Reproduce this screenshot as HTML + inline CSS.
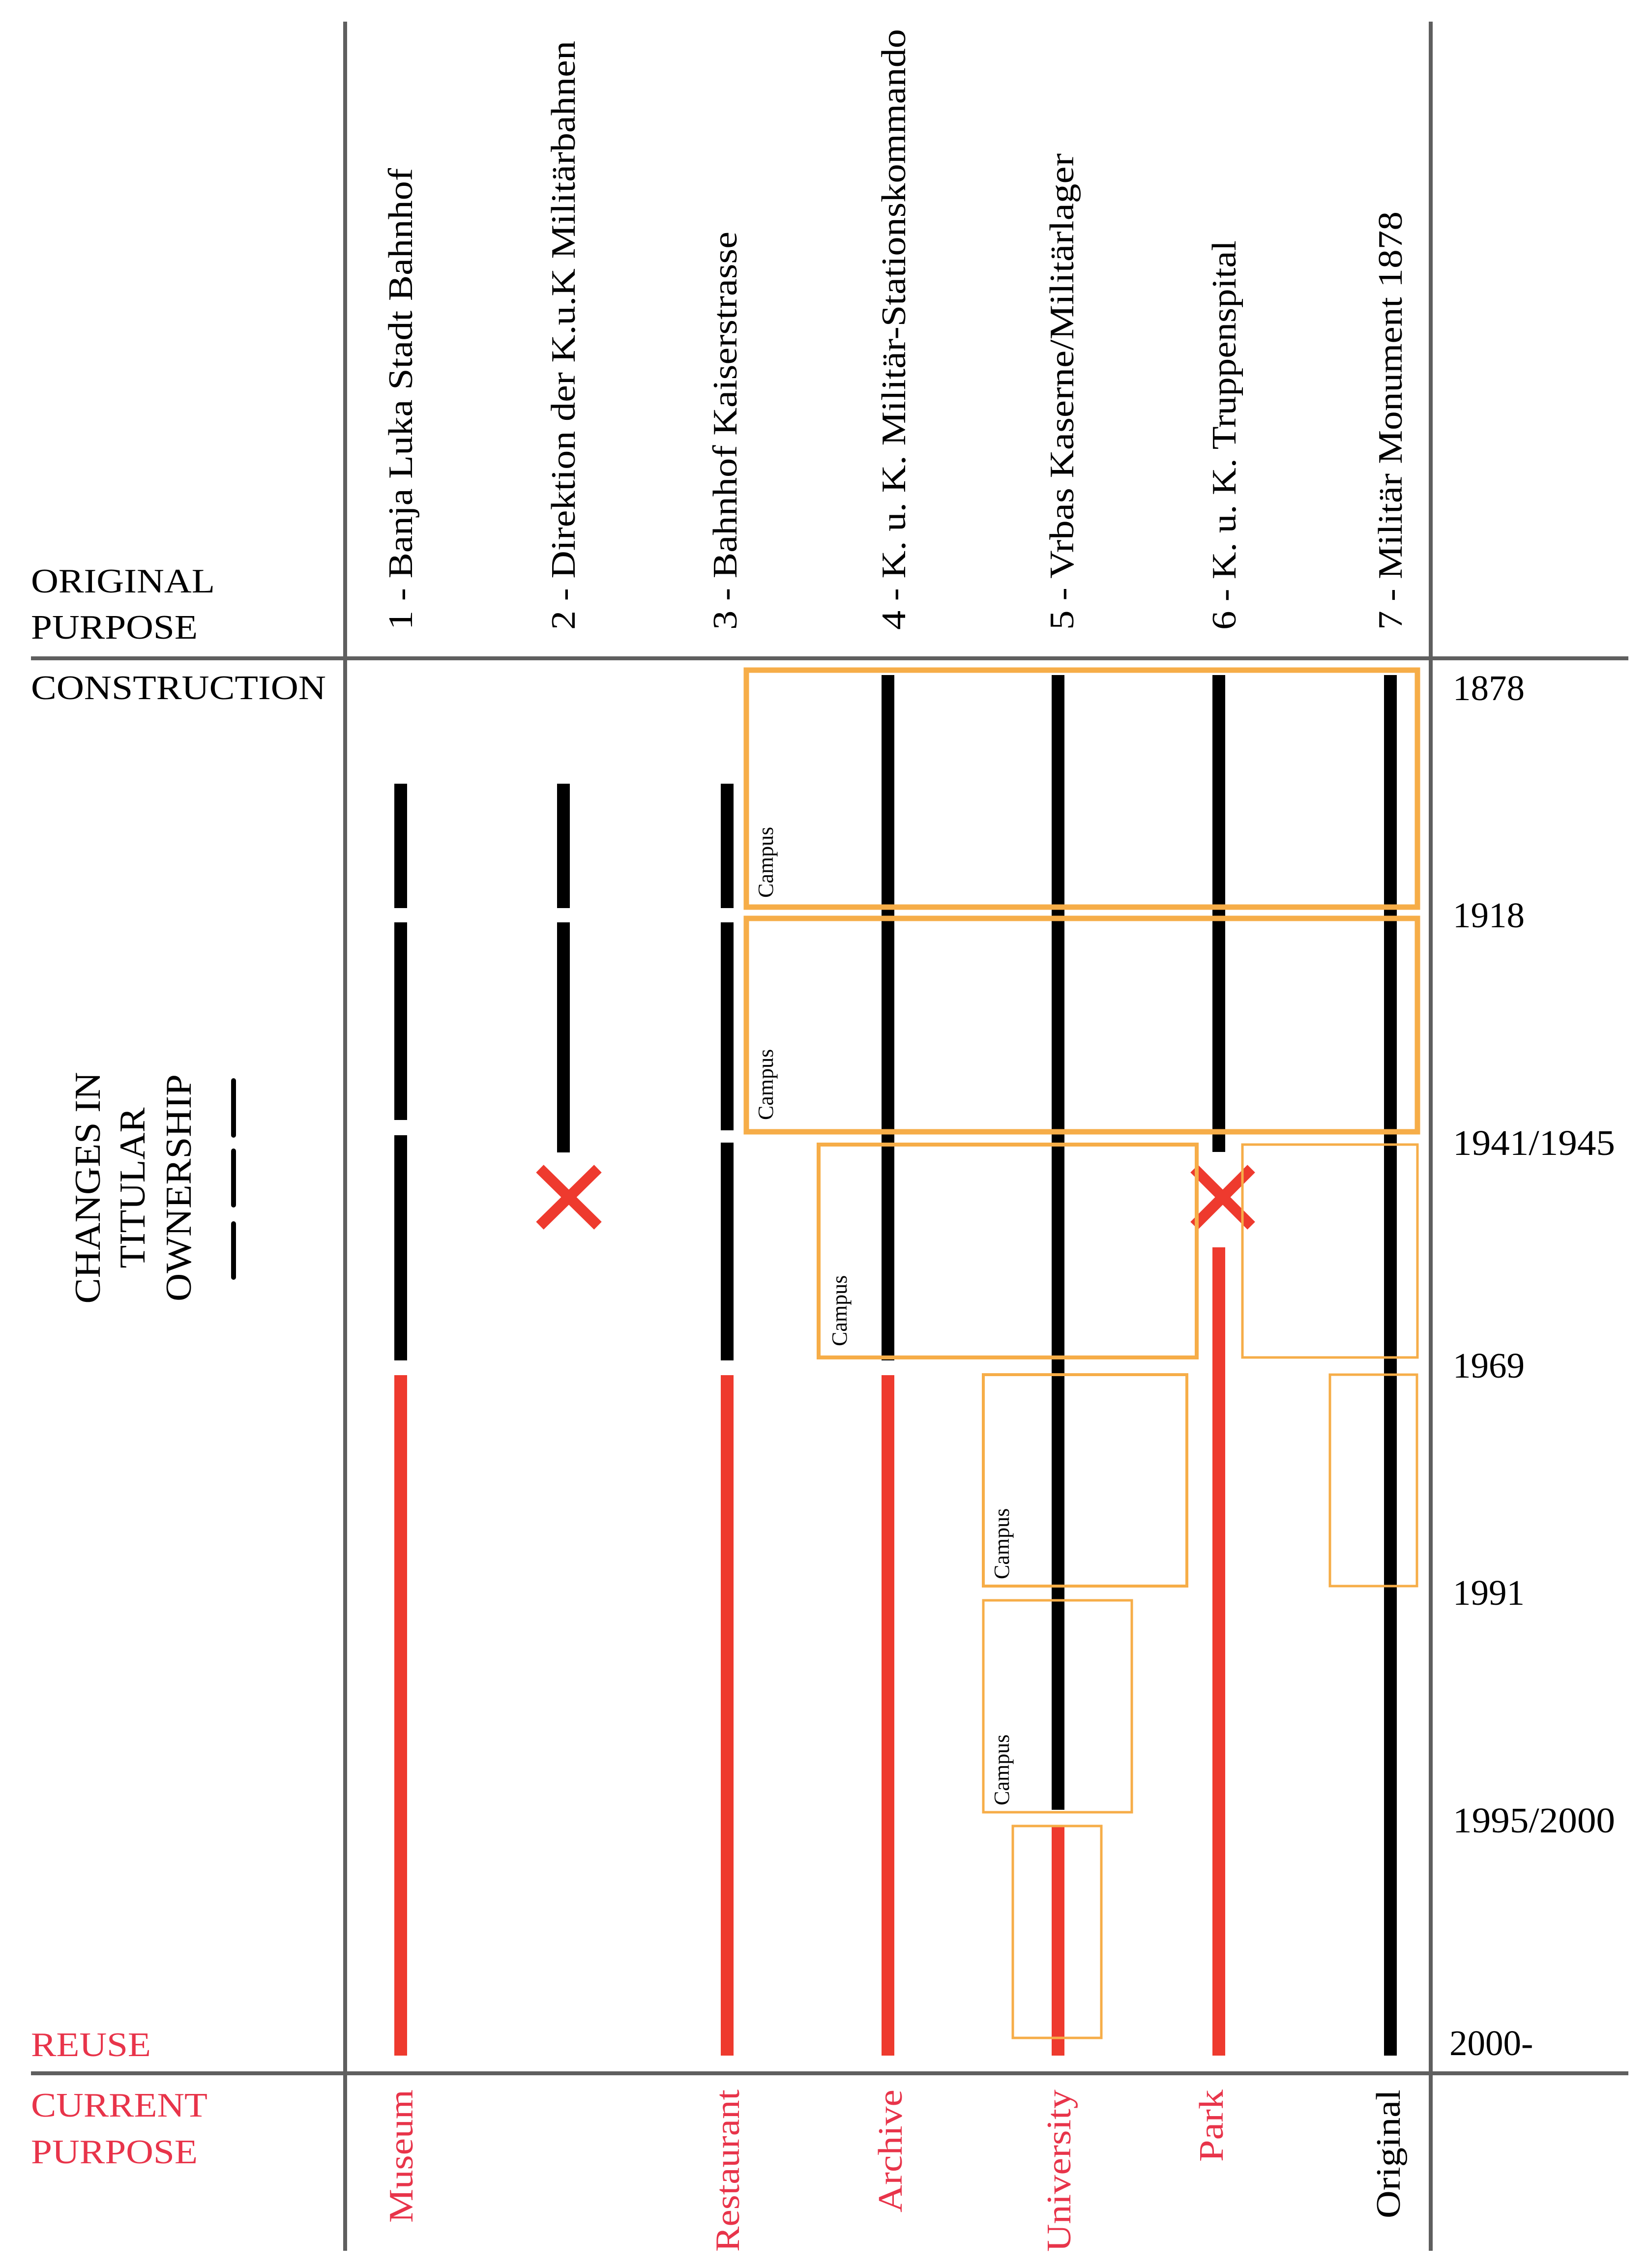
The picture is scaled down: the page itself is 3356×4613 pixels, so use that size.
<!DOCTYPE html>
<html><head><meta charset="utf-8"><style>
html,body{margin:0;padding:0;background:#fff}
svg{display:block}
text{font-family:"Liberation Serif",serif}
</style></head><body>
<svg width="3356" height="4613" viewBox="0 0 3356 4613" xmlns="http://www.w3.org/2000/svg">
<rect width="3356" height="4613" fill="#fff"/>
<g stroke="#5f5f5f" stroke-width="8">
<line x1="702" y1="44" x2="702" y2="4578"/>
<line x1="2910" y1="44" x2="2910" y2="4578"/>
<line x1="63" y1="1339" x2="3312" y2="1339"/>
<line x1="63" y1="4217" x2="3312" y2="4217"/>
</g>
<g font-size="70" fill="#000" lengthAdjust="spacingAndGlyphs">
<text x="63" y="1205" textLength="374" lengthAdjust="spacingAndGlyphs">ORIGINAL</text>
<text x="63" y="1299" textLength="339" lengthAdjust="spacingAndGlyphs">PURPOSE</text>
<text x="63" y="1422" textLength="600" lengthAdjust="spacingAndGlyphs">CONSTRUCTION</text>
</g>
<g font-size="70" fill="#e8344a">
<text x="63" y="4182" textLength="244" lengthAdjust="spacingAndGlyphs">REUSE</text>
<text x="63" y="4305" textLength="359" lengthAdjust="spacingAndGlyphs">CURRENT</text>
<text x="63" y="4400" textLength="339" lengthAdjust="spacingAndGlyphs">PURPOSE</text>
</g>
<g font-size="74" fill="#000" text-anchor="middle">
<text transform="translate(203,2416) rotate(-90)" textLength="471" lengthAdjust="spacingAndGlyphs">CHANGES IN</text>
<text transform="translate(294,2416) rotate(-90)" textLength="327" lengthAdjust="spacingAndGlyphs">TITULAR</text>
<text transform="translate(388,2416) rotate(-90)" textLength="462" lengthAdjust="spacingAndGlyphs">OWNERSHIP</text>
</g>
<g stroke="#000" stroke-width="10" stroke-linecap="round">
<line x1="475" y1="2198" x2="475" y2="2309"/>
<line x1="475" y1="2341" x2="475" y2="2451"/>
<line x1="475" y1="2489" x2="475" y2="2598"/>
</g>
<g font-size="70" fill="#000">
<text transform="translate(838,1281) rotate(-90)" textLength="939" lengthAdjust="spacingAndGlyphs">1 - Banja Luka Stadt Bahnhof</text>
<text transform="translate(1169,1281) rotate(-90)" textLength="1198" lengthAdjust="spacingAndGlyphs">2 - Direktion der K.u.K Militärbahnen</text>
<text transform="translate(1498,1281) rotate(-90)" textLength="810" lengthAdjust="spacingAndGlyphs">3 - Bahnhof Kaiserstrasse</text>
<text transform="translate(1841,1281) rotate(-90)" textLength="1222" lengthAdjust="spacingAndGlyphs">4 - K. u. K. Militär-Stationskommando</text>
<text transform="translate(2183,1281) rotate(-90)" textLength="969" lengthAdjust="spacingAndGlyphs">5 - Vrbas Kaserne/Militärlager</text>
<text transform="translate(2513,1281) rotate(-90)" textLength="792" lengthAdjust="spacingAndGlyphs">6 - K. u. K. Truppenspital</text>
<text transform="translate(2851,1281) rotate(-90)" textLength="851" lengthAdjust="spacingAndGlyphs">7 - Militär Monument 1878</text>
</g>
<g font-size="70" fill="#e8344a" text-anchor="end">
<text transform="translate(839,4250) rotate(-90)" textLength="271" lengthAdjust="spacingAndGlyphs">Museum</text>
<text transform="translate(1503,4250) rotate(-90)" textLength="330" lengthAdjust="spacingAndGlyphs">Restaurant</text>
<text transform="translate(1834,4250) rotate(-90)" textLength="250" lengthAdjust="spacingAndGlyphs">Archive</text>
<text transform="translate(2177,4250) rotate(-90)" textLength="330" lengthAdjust="spacingAndGlyphs">University</text>
<text transform="translate(2487,4250) rotate(-90)" textLength="147" lengthAdjust="spacingAndGlyphs">Park</text>
<text transform="translate(2847,4250) rotate(-90)" fill="#000" textLength="262" lengthAdjust="spacingAndGlyphs">Original</text>
</g>
<g font-size="73" fill="#000">
<text x="2955" y="1424">1878</text>
<text x="2955" y="1886">1918</text>
<text x="2955" y="2349" textLength="330" lengthAdjust="spacingAndGlyphs">1941/1945</text>
<text x="2955" y="2802">1969</text>
<text x="2955" y="3264">1991</text>
<text x="2955" y="3727" textLength="330" lengthAdjust="spacingAndGlyphs">1995/2000</text>
<text x="2948" y="4180">2000-</text>
</g>
<g stroke="#000" stroke-width="26">
<line x1="815" y1="1594" x2="815" y2="1847"/>
<line x1="815" y1="1876" x2="815" y2="2278"/>
<line x1="815" y1="2309" x2="815" y2="2767"/>
<line x1="1146" y1="1594" x2="1146" y2="1847"/>
<line x1="1146" y1="1876" x2="1146" y2="2344"/>
<line x1="1479" y1="1594" x2="1479" y2="1847"/>
<line x1="1479" y1="1876" x2="1479" y2="2299"/>
<line x1="1479" y1="2324" x2="1479" y2="2767"/>
<line x1="1806" y1="1373" x2="1806" y2="2767"/>
<line x1="2152" y1="1373" x2="2152" y2="3681"/>
<line x1="2479" y1="1373" x2="2479" y2="2343"/>
<line x1="2828" y1="1373" x2="2828" y2="4181"/>
</g>
<g stroke="#ee3a2e" stroke-width="26">
<line x1="815" y1="2797" x2="815" y2="4181"/>
<line x1="1479" y1="2797" x2="1479" y2="4181"/>
<line x1="1806" y1="2797" x2="1806" y2="4181"/>
<line x1="2152" y1="3716" x2="2152" y2="4181"/>
<line x1="2479" y1="2537" x2="2479" y2="4181"/>
</g>
<g stroke="#ee3a2e" stroke-width="22">
<line x1="1098" y1="2377" x2="1216" y2="2493"/>
<line x1="1216" y1="2377" x2="1098" y2="2493"/>
<line x1="2429" y1="2377" x2="2545" y2="2493"/>
<line x1="2545" y1="2377" x2="2429" y2="2493"/>
</g>
<g fill="none" stroke="#f6ad48">
<rect x="1518" y="1363" width="1365" height="482" stroke-width="11"/>
<rect x="1518" y="1868" width="1365" height="434" stroke-width="11"/>
<rect x="1665" y="2328" width="769" height="433" stroke-width="8"/>
<rect x="2527" y="2328" width="356" height="433" stroke-width="5"/>
<rect x="2000" y="2796" width="414" height="430" stroke-width="6"/>
<rect x="2705" y="2796" width="177" height="430" stroke-width="5"/>
<rect x="2000" y="3255" width="302" height="431" stroke-width="5"/>
<rect x="2060" y="3714" width="180" height="431" stroke-width="5"/>
</g>
<g font-size="44" fill="#000">
<text transform="translate(1572,1826) rotate(-90)">Campus</text>
<text transform="translate(1572,2278) rotate(-90)">Campus</text>
<text transform="translate(1722,2738) rotate(-90)">Campus</text>
<text transform="translate(2052,3212) rotate(-90)">Campus</text>
<text transform="translate(2052,3672) rotate(-90)">Campus</text>
</g>
</svg>
</body></html>
